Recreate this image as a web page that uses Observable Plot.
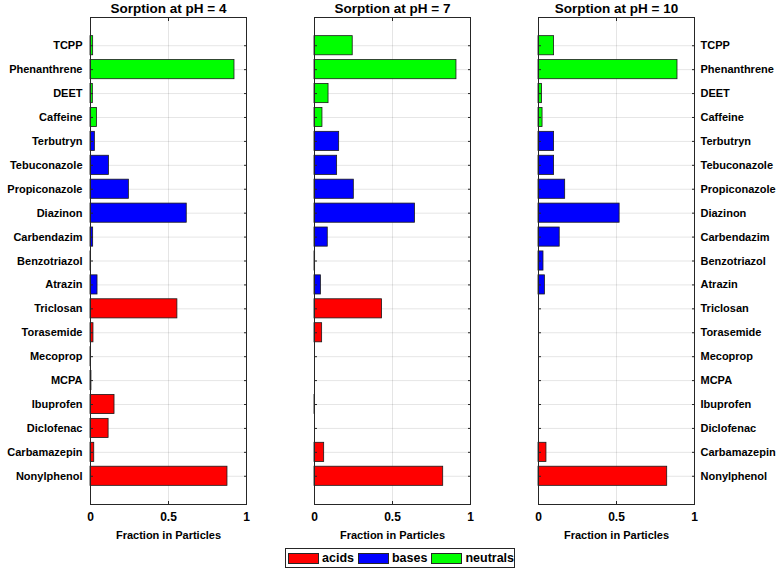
<!DOCTYPE html>
<html><head><meta charset="utf-8">
<script src="https://cdn.jsdelivr.net/npm/d3@7"></script>
<script src="https://cdn.jsdelivr.net/npm/@observablehq/plot@0.6"></script>
<style>
body{margin:0;background:#fff;font-family:"Liberation Sans",Arial,sans-serif;}
#wrap{position:relative;width:784px;height:569px;overflow:hidden;}
.panel{position:absolute;top:0;}
#legend{position:absolute;left:285px;top:548px;width:230px;height:20px;border:1px solid #262626;display:flex;align-items:center;box-sizing:border-box;padding-left:2px;font-weight:bold;font-size:12.5px;color:#000;background:#fff;}
.sw{display:inline-block;width:31px;height:11px;border:1px solid #262626;margin-right:3px;box-sizing:border-box;}
.item{display:flex;align-items:center;margin-right:4px;}
</style></head><body><div id="wrap"></div>
<script>
const compounds = ["TCPP","Phenanthrene","DEET","Caffeine","Terbutryn","Tebuconazole","Propiconazole","Diazinon","Carbendazim","Benzotriazol","Atrazin","Triclosan","Torasemide","Mecoprop","MCPA","Ibuprofen","Diclofenac","Carbamazepin","Nonylphenol"];
const groups = ["neutrals","neutrals","neutrals","neutrals","bases","bases","bases","bases","bases","bases","bases","acids","acids","acids","acids","acids","acids","acids","acids"];
const ph4  = [0.017,0.923,0.015,0.041,0.028,0.118,0.246,0.617,0.017,0.002,0.045,0.557,0.019,0.001,0.006,0.154,0.116,0.024,0.878];
const ph7  = [0.245,0.910,0.090,0.051,0.158,0.145,0.252,0.644,0.085,0.004,0.041,0.433,0.049,0,0,0.003,0,0.062,0.825];
const ph10 = [0.100,0.891,0.023,0.026,0.100,0.100,0.171,0.520,0.136,0.032,0.041,0,0,0,0,0,0,0.051,0.825];
const titles = ["Sorption at pH = 4","Sorption at pH = 7","Sorption at pH = 10"];
const groupNames = ["acids","bases","neutrals"];
const groupColors = ["#ff0000","#0000ff","#00ff00"];
const xTicks = [0, 0.5, 1];
const xLabel = "Fraction in Particles";

const wrap = document.getElementById("wrap");
const font = "Liberation Sans, Arial, Helvetica, sans-serif";

function panel(values, title, side, left, mL, mR) {
  const data = compounds.map((c, i) => ({name: c, group: groups[i], v: values[i]}));
  const width = mL + 156 + mR;
  const marks = [
    Plot.gridX(xTicks, {stroke: "#000", strokeOpacity: 0.1}),
    Plot.gridY(compounds, {stroke: "#000", strokeOpacity: 0.1}),
    Plot.barX(data, {x: "v", y: "name", fill: "group", stroke: "#1a1a1a", strokeWidth: 0.8}),
    Plot.frame({stroke: "#262626", strokeWidth: 1}),
    Plot.axisX(xTicks, {anchor: "bottom", tickSize: 0, tickPadding: 8, fontSize: 12, fontWeight: "bold", label: null, tickFormat: d => String(d)}),
    Plot.axisX(xTicks, {anchor: "bottom", tickSize: -3, tickFormat: () => "", label: null, stroke: "#262626"}),
    Plot.axisX(xTicks, {anchor: "top", tickSize: -3, tickFormat: () => "", label: null, stroke: "#262626"}),
    Plot.axisY(compounds, {anchor: "left", tickSize: -3, tickFormat: () => "", label: null, stroke: "#262626"}),
    Plot.axisY(compounds, {anchor: "right", tickSize: -3, tickFormat: () => "", label: null, stroke: "#262626"}),
    Plot.text([title], {frameAnchor: "top", lineAnchor: "middle", dy: -9, text: d => d, fontSize: 13.5, fontWeight: "bold", fill: "#000"}),
    Plot.text([xLabel], {frameAnchor: "bottom", lineAnchor: "middle", dy: 31, text: d => d, fontSize: 11, fontWeight: "bold", fill: "#000"})
  ];
  if (side) marks.push(Plot.axisY(compounds, {anchor: side, tickSize: 0, tickPadding: side === "left" ? 8 : 6, fontSize: 11, fontWeight: "bold", label: null, fill: "#000"}));
  const svg = Plot.plot({
    width, height: 545, marginTop: 17, marginBottom: 41, marginLeft: mL, marginRight: mR,
    style: {fontFamily: font, color: "#000", background: "transparent", overflow: "visible"},
    x: {domain: [0, 1], ticks: xTicks},
    y: {type: "band", domain: compounds, paddingInner: 0.2, paddingOuter: 0.78, round: false, axis: null},
    color: {domain: groupNames, range: groupColors},
    marks
  });
  svg.classList.add("panel");
  svg.style.left = left + "px";
  wrap.appendChild(svg);
}

panel(ph4, titles[0], "left", 0, 90, 14);
panel(ph7, titles[1], null, 300, 14, 14);
panel(ph10, titles[2], "right", 524, 14, 90);

const legend = document.createElement("div");
legend.id = "legend";
groupNames.forEach((g, i) => {
  const it = document.createElement("span");
  it.className = "item";
  const sw = document.createElement("span");
  sw.className = "sw";
  sw.style.background = groupColors[i];
  it.appendChild(sw);
  it.appendChild(document.createTextNode(g));
  legend.appendChild(it);
});
wrap.appendChild(legend);
</script></body></html>
